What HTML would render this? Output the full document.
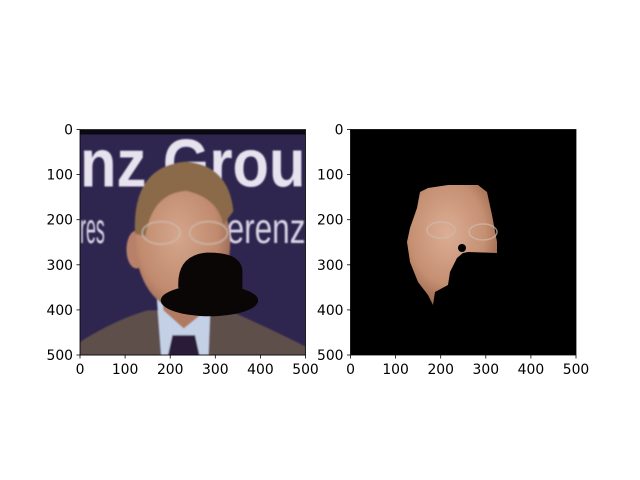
<!DOCTYPE html>
<html><head><meta charset="utf-8"><style>
html,body{margin:0;padding:0;background:#fff;}
svg{display:block;font-family:"DejaVu Sans","Liberation Sans",sans-serif;}
</style></head><body>
<svg id="fig" width="640" height="480" viewBox="0 0 640 480">
<defs>
<clipPath id="cl"><rect x="0" y="0" width="500" height="500"/></clipPath>
<radialGradient id="skin" cx="0.45" cy="0.45" r="0.6"><stop offset="0" stop-color="#d4a68c"/><stop offset="0.7" stop-color="#c08a6e"/><stop offset="1" stop-color="#956552"/></radialGradient>
<radialGradient id="skin2" cx="0.45" cy="0.4" r="0.6"><stop offset="0" stop-color="#dcae95"/><stop offset="0.7" stop-color="#c58f72"/><stop offset="1" stop-color="#a06a50"/></radialGradient>
<filter id="blur"><feGaussianBlur stdDeviation="1.5"/></filter>
</defs>

<g transform="translate(80,130) scale(0.451)" clip-path="url(#cl)">
  <rect x="0" y="0" width="500" height="500" fill="#2f2650"/>
  <rect x="0" y="0" width="500" height="10" fill="#0a0810"/>
  <g filter="url(#blur)">
  <text x="0" y="125" font-size="150" font-weight="bold" fill="#e6e2ee" textLength="500" lengthAdjust="spacingAndGlyphs" font-family="Liberation Sans, sans-serif">nz Grou</text>
  <text x="0" y="250" font-size="95" fill="#d8d4e4" textLength="55" lengthAdjust="spacingAndGlyphs" font-family="Liberation Sans, sans-serif">res</text>
  <text x="325" y="250" font-size="95" fill="#d8d4e4" textLength="175" lengthAdjust="spacingAndGlyphs" font-family="Liberation Sans, sans-serif">erenz</text>
  <path d="M0,470 Q80,420 150,400 L330,400 Q420,440 500,480 L500,500 L0,500 Z" fill="#5e504c"/>
  <path d="M170,370 L290,370 L285,500 L180,500 Z" fill="#c4d0e6"/>
  <path d="M205,455 L255,455 L265,500 L195,500 Z" fill="#2c1f38"/>
  <path d="M175,300 L285,300 L280,400 L230,440 L185,400 Z" fill="#b07a62"/>
  <ellipse cx="125" cy="265" rx="22" ry="42" fill="#b8806a"/>
  <ellipse cx="228" cy="250" rx="105" ry="150" fill="url(#skin)"/>
  <path d="M122,230 Q115,80 235,70 Q330,78 340,180 L318,210 Q305,150 235,135 Q160,140 145,235 Z" fill="#8a6a48"/>
  <ellipse cx="180" cy="228" rx="42" ry="25" fill="none" stroke="#cdbcae" stroke-width="4" opacity="0.7"/>
  <ellipse cx="285" cy="228" rx="42" ry="25" fill="none" stroke="#cdbcae" stroke-width="4" opacity="0.7"/>
  </g>
  <g fill="#0a0606">
    <path d="M218,350 Q214,278 280,272 Q355,270 360,310 L360,355 Z"/>
    <ellipse cx="287" cy="378" rx="108" ry="35"/>
  </g>
</g>

<g>
  <rect x="350.5" y="129.5" width="225.5" height="225.5" fill="#000"/>
  <path d="M420,192 L428,188 L448,185 L478,185 L487,192 L492,215 L497,242 L497,253 L468,252 L463,253 L457,258 L450,272 L448,285 L435,292 L433,305 L428,295 L418,282 L410,262 L407,242 L410,228 L417,208 Z" fill="url(#skin2)"/>
  <ellipse cx="441" cy="230" rx="14" ry="8" fill="none" stroke="#cdbcae" stroke-width="1.5" opacity="0.7"/>
  <ellipse cx="483" cy="232" rx="14" ry="8" fill="none" stroke="#cdbcae" stroke-width="1.5" opacity="0.7"/>
  <ellipse cx="462" cy="248" rx="4" ry="4" fill="#000"/>
</g>

<g id="axes" fill="none" stroke="#000" stroke-width="0.8"></g>
<g id="labels" font-size="13.9" fill="#000"></g>
</svg>
<script>
const tickValues = [0, 100, 200, 300, 400, 500];
const tickLabels = ["0", "100", "200", "300", "400", "500"];
const panels = [{x0: 80, y0: 129.5, size: 225.5}, {x0: 350.5, y0: 129.5, size: 225.5}];
const NS = "http://www.w3.org/2000/svg";
const ax = document.getElementById("axes");
const lb = document.getElementById("labels");
function mk(tag, attrs, parent) {
  const e = document.createElementNS(NS, tag);
  for (const k in attrs) e.setAttribute(k, attrs[k]);
  parent.appendChild(e);
  return e;
}
panels.forEach((p, pi) => {
  const sx = v => p.x0 + v / 500 * p.size;
  const sy = v => p.y0 + v / 500 * p.size;
  const fr = mk("rect", {x: p.x0, y: p.y0, width: p.size, height: p.size}, ax);
  
  
  tickValues.forEach((v, i) => {
    const tx = mk("line", {x1: sx(v), x2: sx(v), y1: p.y0 + p.size, y2: p.y0 + p.size + 3.5}, ax);
    
    
    const ty = mk("line", {x1: p.x0 - 3.5, x2: p.x0, y1: sy(v), y2: sy(v)}, ax);
    
    
    const xl = mk("text", {x: sx(v), y: p.y0 + p.size + 19, "text-anchor": "middle"}, lb);
    xl.textContent = tickLabels[i];
    
    
    const yl = mk("text", {x: p.x0 - 7, y: sy(v) + 5, "text-anchor": "end"}, lb);
    yl.textContent = tickLabels[i];
    
    
  });
});
</script>
</body></html>
